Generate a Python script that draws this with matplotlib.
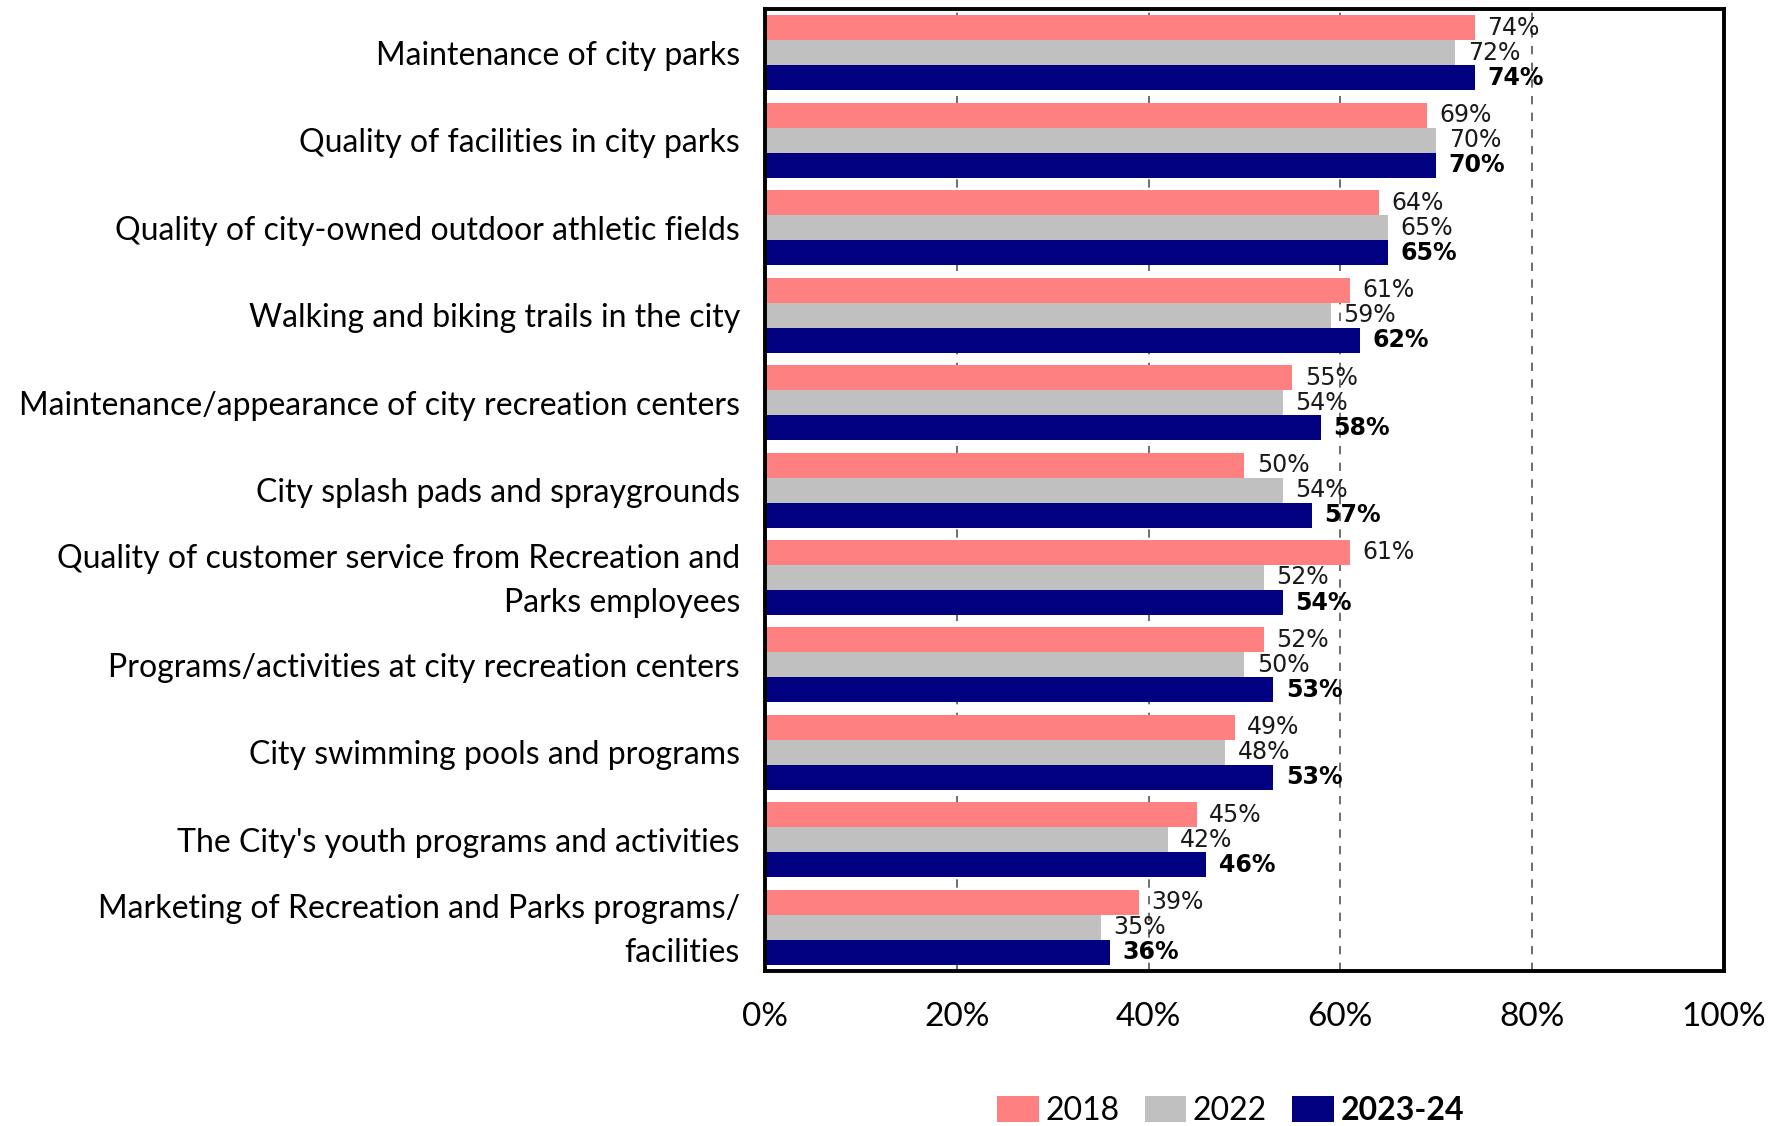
import matplotlib
matplotlib.use("Agg")
import matplotlib.pyplot as plt
import matplotlib.transforms as mtransforms
import numpy as np
from matplotlib.patches import Patch

categories = [
    "Maintenance of city parks",
    "Quality of facilities in city parks",
    "Quality of city-owned outdoor athletic fields",
    "Walking and biking trails in the city",
    "Maintenance/appearance of city recreation centers",
    "City splash pads and spraygrounds",
    "Quality of customer service from Recreation and\nParks employees",
    "Programs/activities at city recreation centers",
    "City swimming pools and programs",
    "The City's youth programs and activities",
    "Marketing of Recreation and Parks programs/\nfacilities",
]
series_names = ["2018", "2022", "2023-24"]
values_2018 = [74, 69, 64, 61, 55, 50, 61, 52, 49, 45, 39]
values_2022 = [72, 70, 65, 59, 54, 54, 52, 50, 48, 42, 35]
values_2024 = [74, 70, 65, 62, 58, 57, 54, 53, 53, 46, 36]
x_ticks = [0, 20, 40, 60, 80, 100]

colors = ["#FF8080", "#C0C0C0", "#000080"]
label_font = "Lato"

fig = plt.figure(figsize=(17.86, 11.26), dpi=100)
ax = fig.add_axes([0.4283, 0.1376, 0.5370, 0.8544])

n = len(categories)
y = np.arange(n)
bar_h = 0.286
all_series = [values_2018, values_2022, values_2024]
for i, (vals, col) in enumerate(zip(all_series, colors)):
    pos = y + (i - 1) * bar_h
    ax.barh(pos, vals, height=bar_h, color=col, zorder=2)
    for p, v in zip(pos, vals):
        ax.text(v + 1.3, p, f"{v}%", va="center", ha="left",
                fontsize=17, color="#1a1a1a" if i < 2 else "black",
                fontweight="bold" if i == 2 else "normal",
                family="DejaVu Sans", zorder=3)

ax.set_xlim(0, 100)
ax.set_ylim(n - 0.5, -0.5)
ax.set_xticks(x_ticks)
ax.set_xticklabels([f"{t}%" for t in x_ticks], fontsize=24, family=label_font)
ax.set_yticks(y)
ax.set_yticklabels(categories, fontsize=23, family=label_font,
                   linespacing=1.55)
ax.tick_params(axis="both", length=0)
ax.tick_params(axis="x", pad=22)
ax.tick_params(axis="y", pad=18)
lift = mtransforms.ScaledTranslation(0, 6 / 100, fig.dpi_scale_trans)
for lbl in ax.get_yticklabels():
    lbl.set_horizontalalignment("right")
    if "\n" in lbl.get_text():
        lbl.set_transform(lbl.get_transform() + lift)

for xv in [20, 40, 60, 80]:
    ax.axvline(xv, color="#555555", linestyle=(0, (5, 5)), linewidth=1.2, zorder=1)

for s in ax.spines.values():
    s.set_linewidth(2.8)
    s.set_color("black")

handles = [Patch(facecolor=c, edgecolor="none") for c in colors]
leg = fig.legend(handles, series_names, loc="center", bbox_to_anchor=(0.689, 0.0135),
                 ncol=3, frameon=False, handlelength=1.3, handleheight=0.9,
                 handletextpad=0.2, columnspacing=0.8, prop={"family": label_font, "size": 23})
for t in leg.get_texts():
    if t.get_text() == "2023-24":
        t.set_fontweight("bold")

fig.savefig("out.png", dpi=100)
